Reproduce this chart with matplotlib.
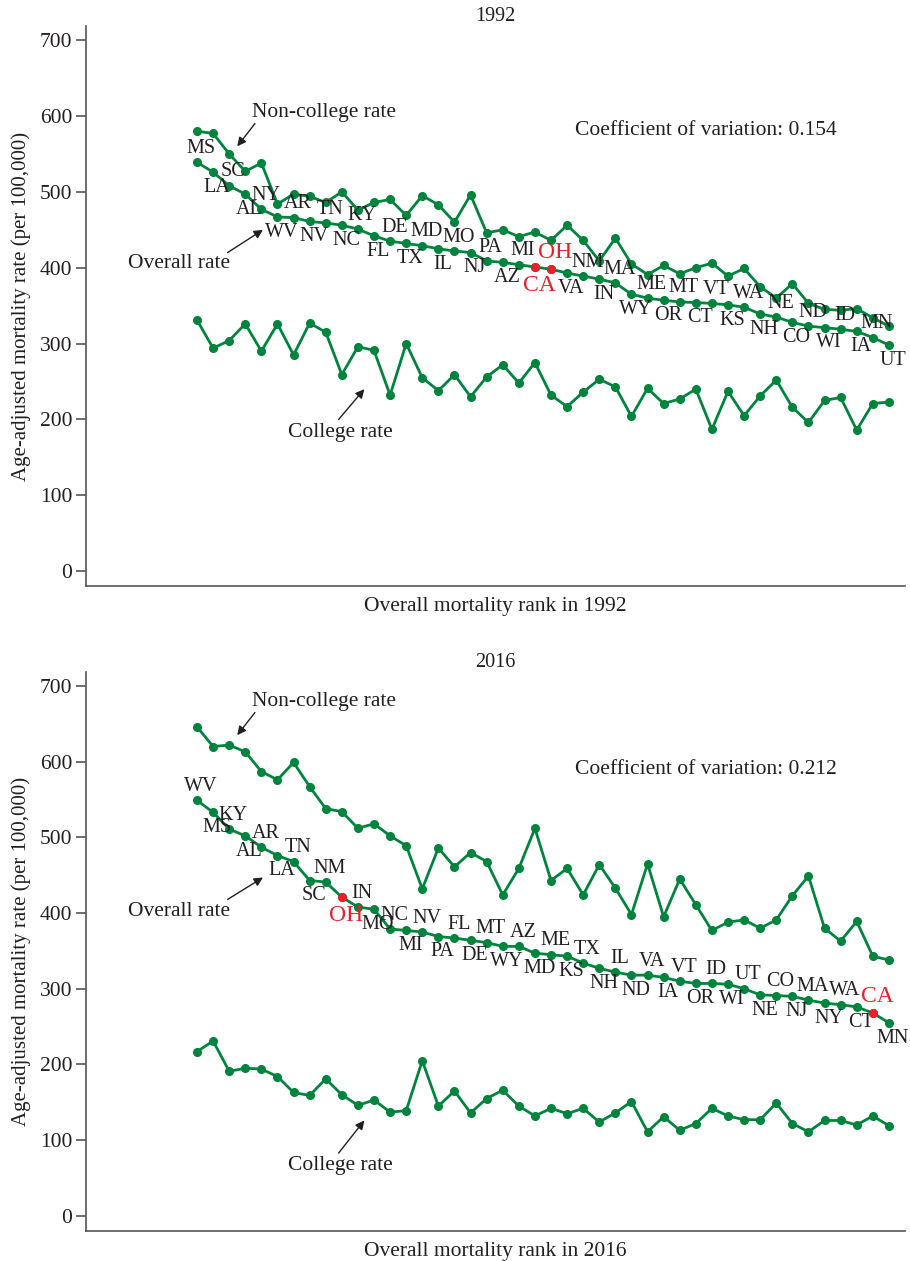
import matplotlib
matplotlib.use("Agg")
import matplotlib.pyplot as plt

plt.rcParams['font.family'] = ['Liberation Serif', 'DejaVu Serif']

GREEN = '#00843d'
RED = '#e8202a'
INK = '#231f20'

# 1992, states in order of overall mortality rank
states_1992 = ['MS', 'LA', 'SC', 'AL', 'NY', 'WV', 'AR', 'NV', 'TN', 'NC', 'KY',
               'FL', 'DE', 'TX', 'MD', 'IL', 'MO', 'NJ', 'PA', 'AZ', 'MI', 'CA',
               'OH', 'VA', 'NM', 'IN', 'MA', 'WY', 'ME', 'OR', 'MT', 'CT', 'VT',
               'KS', 'WA', 'NH', 'NE', 'CO', 'ND', 'WI', 'ID', 'IA', 'MN', 'UT']
overall_1992 = [539, 526, 508, 497, 477, 467, 466, 461, 459, 456, 451,
                442, 435, 432, 429, 425, 422, 420, 409, 407, 404, 401,
                398, 393, 389, 385, 380, 365, 360, 357, 355, 354, 353,
                351, 348, 339, 335, 328, 323, 321, 319, 316, 308, 298]
noncollege_1992 = [580, 577, 550, 527, 538, 484, 497, 494, 486, 500, 476,
                   486, 490, 469, 495, 483, 460, 496, 446, 450, 441, 447,
                   436, 456, 436, 409, 439, 405, 391, 403, 392, 400, 406,
                   389, 399, 375, 360, 379, 353, 345, 344, 346, 334, 323]
college_1992 = [331, 294, 304, 326, 290, 326, 285, 327, 315, 259, 296,
                291, 232, 300, 255, 238, 259, 230, 256, 272, 248, 275,
                232, 217, 236, 253, 243, 204, 241, 221, 227, 240, 187,
                237, 205, 231, 252, 216, 196, 225, 229, 186, 221, 223]

# 2016
states_2016 = ['WV', 'MS', 'KY', 'AL', 'AR', 'LA', 'TN', 'SC', 'NM', 'OH', 'IN',
               'MO', 'NC', 'MI', 'NV', 'PA', 'FL', 'DE', 'MT', 'WY', 'AZ', 'MD',
               'ME', 'KS', 'TX', 'NH', 'IL', 'ND', 'VA', 'IA', 'VT', 'OR', 'ID',
               'WI', 'UT', 'NE', 'CO', 'NJ', 'MA', 'NY', 'WA', 'CT', 'CA', 'MN']
overall_2016 = [549, 533, 511, 502, 487, 476, 468, 443, 441, 421, 408,
                405, 379, 377, 375, 369, 367, 364, 361, 356, 356, 347,
                345, 343, 334, 327, 322, 318, 318, 315, 310, 307, 307,
                306, 300, 292, 291, 290, 285, 281, 279, 276, 268, 255]
noncollege_2016 = [646, 620, 622, 613, 587, 576, 599, 567, 538, 534, 512,
                   518, 502, 489, 432, 486, 461, 480, 468, 424, 459, 512,
                   443, 459, 424, 464, 433, 398, 465, 395, 445, 411, 377,
                   388, 391, 380, 391, 423, 449, 380, 363, 389, 343, 338]
college_2016 = [217, 231, 191, 195, 194, 184, 163, 159, 181, 160, 146,
                153, 137, 139, 205, 145, 165, 136, 155, 166, 145, 132,
                142, 135, 142, 124, 136, 151, 111, 131, 113, 122, 142,
                132, 127, 127, 149, 122, 111, 126, 126, 120, 132, 119]

red_states = ['OH', 'CA']
cov = {'1992': 0.154, '2016': 0.212}

# annotation texts and arrows (data coords of each panel)
annot_1992 = [('Non-college rate', 8.9, 605), ('Overall rate', -0.1, 405), ('College rate', 9.9, 183)]
arrows_1992 = [((4.6, 590), (3.5, 560)), ((2.9, 420), (5.1, 450)), ((9.8, 200), (11.4, 240))]
annot_2016 = [('Non-college rate', 8.9, 680), ('Overall rate', -0.1, 402), ('College rate', 9.9, 66)]
arrows_2016 = [((4.6, 665), (3.5, 635)), ((2.9, 418), (5.1, 447)), ((9.8, 83), (11.4, 126))]
cov_y = {'1992': 581, '2016': 590}

fig = plt.figure(figsize=(9.1, 12.61), dpi=100)
ax1 = fig.add_axes([0.0945, 0.535, 0.9, 0.444])
ax2 = fig.add_axes([0.0945, 0.0238, 0.9, 0.443])


def draw_panel(ax, year, states, overall, noncollege, college, annot, arrows):
    x = list(range(1, len(states) + 1))
    kw = dict(color=GREEN, lw=2, marker='o', ms=5.5, mec=GREEN, mfc=GREEN)
    ax.plot(x, noncollege, **kw)
    ax.plot(x, college, **kw)
    ax.plot(x, overall, **kw)
    for i, (s, v) in enumerate(zip(states, overall)):
        above = (i % 2 == 0)
        red = s in red_states
        if red:
            ax.plot(x[i], v, 'o', color=RED, ms=5.5, zorder=5)
        dy = 10 if above else -11
        if red:
            dy = 12 if above else -13
        ax.annotate(s, (x[i], v), xytext=(3, dy), textcoords='offset points',
                    ha='center', va='center', color=RED if red else INK,
                    fontsize=17 if red else 14.5)

    ax.set_xlim(-5.9, 45)
    ax.set_ylim(-20, 718)
    ax.set_yticks(range(0, 701, 100))
    ax.set_xticks([])
    ax.spines['top'].set_visible(False)
    ax.spines['right'].set_visible(False)
    for sp in ['left', 'bottom']:
        ax.spines[sp].set_color('#555555')
        ax.spines[sp].set_linewidth(1.2)
    ax.tick_params(axis='y', length=7, width=1.2, color='#555555',
                   labelsize=15.5, labelcolor=INK, pad=3)
    ax.set_title(year, fontsize=14.5, color=INK, pad=2)
    ax.set_xlabel('Overall mortality rank in ' + year, fontsize=15.5,
                  color=INK, labelpad=8)
    ax.set_ylabel('Age-adjusted mortality rate (per 100,000)', fontsize=15,
                  color=INK, labelpad=6)

    for text, tx, ty in annot:
        ax.text(tx, ty, text, ha='center', va='center', fontsize=15.5, color=INK)
    for (x0, y0), (x1, y1) in arrows:
        ax.annotate('', xy=(x1, y1), xytext=(x0, y0),
                    arrowprops=dict(arrowstyle='-|>', color=INK, lw=1,
                                    mutation_scale=13, shrinkA=0, shrinkB=0))
    ax.text(32.6, cov_y[year], 'Coefficient of variation: %.3f' % cov[year],
            ha='center', va='center', fontsize=15.5, color=INK)


draw_panel(ax1, '1992', states_1992, overall_1992, noncollege_1992, college_1992,
           annot_1992, arrows_1992)
draw_panel(ax2, '2016', states_2016, overall_2016, noncollege_2016, college_2016,
           annot_2016, arrows_2016)

fig.savefig('out.png', dpi=100)
